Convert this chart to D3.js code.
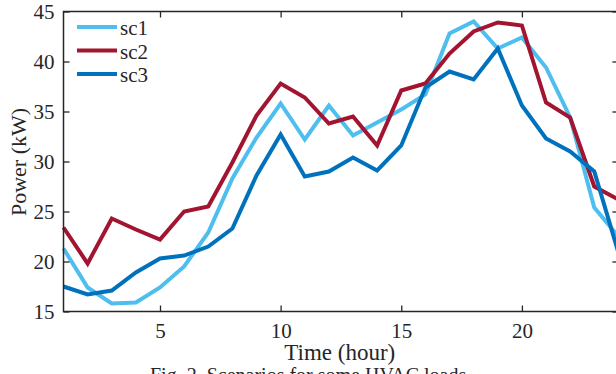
<!DOCTYPE html>
<html><head><meta charset="utf-8">
<script src="https://cdn.jsdelivr.net/npm/d3@7"></script>
<style>html,body{margin:0;padding:0;background:#fff;overflow:hidden}svg{display:block}</style>
</head><body><svg id="c" width="616" height="374"></svg>
<script>
const hours = d3.range(1, 25);
const sc1 = [21.3,17.4,15.8,15.9,17.4,19.5,22.9,28.3,32.4,35.8,32.2,35.6,32.6,33.9,35.2,36.7,42.8,44.0,41.3,42.4,39.4,34.4,25.4,22.5];
const sc2 = [23.4,19.8,24.3,23.2,22.2,25.0,25.5,29.9,34.6,37.8,36.4,33.8,34.5,31.6,37.1,37.8,40.8,43.0,43.9,43.6,35.9,34.4,27.5,26.2];
const sc3 = [17.5,16.7,17.1,18.9,20.3,20.6,21.5,23.3,28.6,32.7,28.5,29.0,30.4,29.1,31.6,37.4,39.0,38.2,41.3,35.6,32.3,31.0,29.0,20.9];
const seriesNames = ["sc1","sc2","sc3"];
const xTicks = [5,10,15,20];
const yTicks = [15,20,25,30,35,40,45];
const colors = ["#4DBEEE","#A2142F","#0072BD"];

const svg = d3.select("#c");
const font = "'Liberation Serif','Times New Roman',serif";
const axisCol = "#262626";
const L = 63.5, R = 618.4, T = 11.5, B = 311.5;
const x = d3.scaleLinear().domain([1,24]).range([L,R]);
const y = d3.scaleLinear().domain([15,45]).range([B,T]);

// lines
const line = d3.line().x((d,i)=>x(hours[i])).y(d=>y(d));
[sc1,sc2,sc3].forEach((s,k)=>{
  svg.append("path").datum(s).attr("d",line).attr("fill","none")
    .attr("stroke",colors[k]).attr("stroke-width",4).attr("stroke-linejoin","miter");
});

// box
svg.append("rect").attr("x",L).attr("y",T).attr("width",R-L).attr("height",B-T)
  .attr("fill","none").attr("stroke",axisCol).attr("stroke-width",1.5);

// axes
const xAx = svg.append("g").attr("transform",`translate(0,${B})`)
  .call(d3.axisBottom(x).tickValues(xTicks).tickSizeInner(-6).tickSizeOuter(0).tickPadding(12));
const xTop = svg.append("g").attr("transform",`translate(0,${T})`)
  .call(d3.axisTop(x).tickValues(xTicks).tickSizeInner(-6).tickSizeOuter(0).tickFormat(""));
const yAx = svg.append("g").attr("transform",`translate(${L},0)`)
  .call(d3.axisLeft(y).tickValues(yTicks).tickSizeInner(-6).tickSizeOuter(0).tickPadding(9));
const yR = svg.append("g").attr("transform",`translate(${R},0)`)
  .call(d3.axisRight(y).tickValues(yTicks).tickSizeInner(-6).tickSizeOuter(0).tickFormat(""));
[xAx,xTop,yAx,yR].forEach(g=>{
  g.select(".domain").remove();
  g.selectAll("line").attr("stroke",axisCol).attr("stroke-width",1.3);
  g.selectAll("text").attr("fill",axisCol).style("font-family",font).style("font-size","21px");
});

svg.append("text").attr("x",(L+616)/2).attr("y",360).attr("text-anchor","middle")
  .style("font-family",font).style("font-size","23px").attr("fill",axisCol).text("Time (hour)");
svg.append("text").attr("transform","translate(26,162) rotate(-90)").attr("text-anchor","middle")
  .style("font-family",font).style("font-size","22px").attr("fill",axisCol).text("Power (kW)");
svg.append("text").attr("x",150).attr("y",382)
  .style("font-family",font).style("font-size","20px").attr("fill",axisCol).text("Fig. 2. Scenarios for some HVAC loads.");

// legend
const lg = svg.append("g");
seriesNames.forEach((n,k)=>{
  const yy = 27 + k*23.5;
  lg.append("line").attr("x1",77).attr("x2",117).attr("y1",yy).attr("y2",yy)
    .attr("stroke",colors[k]).attr("stroke-width",4);
  lg.append("text").attr("x",120).attr("y",yy+8).style("font-family",font)
    .style("font-size","21px").attr("fill",axisCol).text(n);
});
</script></body></html>
